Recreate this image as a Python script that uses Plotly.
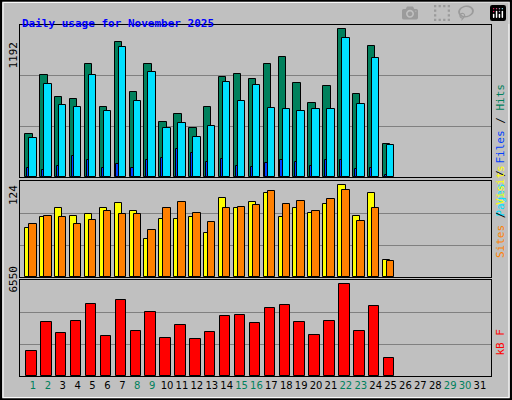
import plotly.graph_objects as go

# daily values (days 1-25)
days = list(range(1, 26))
hits = [351, 820, 642, 626, 909, 569, 1087, 690, 909, 440, 512, 399, 569, 804, 828, 788, 909, 966, 755, 601, 731, 1192, 674, 1055, 270]
files = [318, 747, 585, 569, 820, 529, 1046, 610, 844, 399, 432, 326, 415, 763, 610, 739, 561, 545, 529, 545, 545, 1119, 593, 957, 262]
pages = [76, 59, 92, 173, 140, 76, 108, 76, 140, 156, 229, 197, 124, 148, 92, 84, 116, 140, 124, 92, 140, 140, 67, 76, 19]
sites = [66, 81, 92, 82, 85, 92, 100, 88, 51, 78, 78, 80, 59, 106, 92, 101, 113, 80, 93, 86, 98, 124, 82, 113, 23]
visits = [71, 82, 81, 71, 77, 89, 84, 85, 63, 93, 101, 86, 74, 93, 94, 97, 116, 98, 102, 89, 105, 117, 75, 92, 22]
kbytes = [1800, 3815, 3095, 3887, 5110, 2879, 5398, 3239, 4534, 2735, 3599, 2663, 3167, 4247, 4318, 3743, 4822, 5038, 3815, 2951, 3887, 6550, 3239, 4966, 1295]
tick_days = list(range(1, 32))
weekend = {1, 2, 8, 9, 15, 16, 22, 23, 29, 30}

fig = go.Figure()
edge = dict(color="black", width=1)


def bar(y, color, off, w, ya, xa):
    fig.add_trace(go.Bar(x=days, y=y, offset=off, width=w, marker=dict(color=color, line=edge),
                         xaxis=xa, yaxis=ya, showlegend=False, hoverinfo="y"))


bar(hits, "#00805c", -0.52, 0.5, "y", "x")
bar(pages, "#0040ff", -0.4, 0.15, "y", "x")
bar(files, "#00e0ff", -0.25, 0.5, "y", "x")
bar(sites, "#ffff00", -0.52, 0.5, "y2", "x2")
bar(visits, "#ff8000", -0.25, 0.5, "y2", "x2")
bar(kbytes, "#ff0000", -0.45, 0.7, "y3", "x3")

xdom = [20 / 512, 491 / 512]
xr = [0.13, 31.74]
ax = dict(domain=xdom, range=xr, showgrid=False, zeroline=False, showticklabels=False,
          showline=True, linecolor="black", mirror=True, fixedrange=True)
ticktext = ["<span style='color:%s'>%d</span>" % ("#00805c" if d in weekend else "black", d)
            for d in tick_days]


def yax(top, dom, anchor):
    return dict(domain=dom, range=[0, top], tickvals=[top / 3, 2 * top / 3], showticklabels=False,
                gridcolor="#808080", gridwidth=1, zeroline=False, showline=True, linecolor="black",
                mirror=True, anchor=anchor, fixedrange=True)


fig.update_layout(
    width=512, height=400, margin=dict(l=0, r=0, t=0, b=0),
    paper_bgcolor="#c0c0c0", plot_bgcolor="#c0c0c0", barmode="overlay", bargap=0,
    font=dict(family="DejaVu Sans Mono", size=11, color="black"),
    xaxis=ax, xaxis2=dict(ax, anchor="y2"),
    xaxis3=dict(ax, anchor="y3", showticklabels=True, tickvals=tick_days, ticktext=ticktext,
                ticks="", tickangle=0, tickfont=dict(family="DejaVu Sans", size=10)),
    yaxis=yax(1227, [0.5575, 0.9375], "x"),
    yaxis2=yax(128.9, [0.3075, 0.5475], "x2"),
    yaxis3=yax(6838, [0.06, 0.30], "x3"),
)

ann = [
    dict(x=20 / 512, y=1 - 15 / 400, text="<b>Daily usage for November 2025</b>", xanchor="left",
         font=dict(color="#0000ff", size=11, family="DejaVu Sans Mono")),
    dict(x=13 / 512, y=1 - 40 / 400, text="1192", textangle=-90),
    dict(x=13 / 512, y=1 - 195 / 400, text="124", textangle=-90),
    dict(x=13 / 512, y=1 - 295 / 400, text="6550", textangle=-90),
    dict(x=500 / 512, y=1 - 82 / 400, textangle=-90,
         text="<span style='color:#00e0ff'>Pages</span> / <span style='color:#0040ff'>Files</span>"
              " / <span style='color:#00805c'>Hits</span>"),
    dict(x=500 / 512, y=1 - 212 / 400, textangle=-90,
         text="<span style='color:#ff8000'>Sites</span> / <span style='color:#ffff00'>Visits</span>"),
    dict(x=500 / 512, y=1 - 358 / 400, textangle=-90, text="<span style='color:#ff0000'>kB F</span>"),
]
for a in ann:
    a.update(xref="paper", yref="paper", showarrow=False)
    a.setdefault("xanchor", "center")
fig.update_layout(annotations=ann)

fig.add_shape(type="rect", xref="paper", yref="paper", x0=0.002, y0=0.002, x1=0.998, y1=0.998,
              line=dict(color="black", width=2))
fig.add_shape(type="rect", xref="paper", yref="paper", x0=0.006, y0=0.006, x1=0.994, y1=0.994,
              line=dict(color="white", width=1))

fig.write_html("out.html", post_script="document.body.style.margin='0px';")
